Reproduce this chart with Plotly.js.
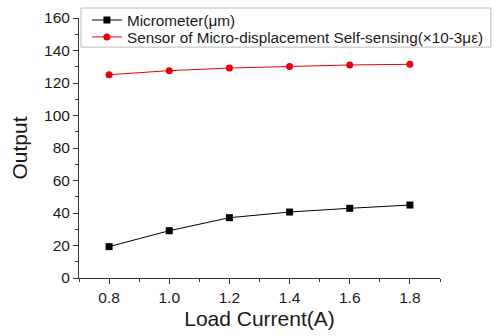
<!DOCTYPE html>
<html><head><meta charset="utf-8">
<script src="https://cdn.plot.ly/plotly-3.0.1.min.js"></script>
<style>html,body{margin:0;padding:0;background:#fff}#c{width:496px;height:336px}</style>
</head><body><div id="c"></div>
<script>
const current = [0.8, 1.0, 1.2, 1.4, 1.6, 1.8];
const micrometer = [19.3, 29.1, 37.1, 40.6, 42.9, 44.9];
const sensor = [125.1, 127.6, 129.2, 130.2, 131.1, 131.5];
const yTicks = [0, 20, 40, 60, 80, 100, 120, 140, 160];
const xTicks = [0.8, 1.0, 1.2, 1.4, 1.6, 1.8];

const traces = [
  {x: current, y: micrometer, name: 'Micrometer(μm)', mode: 'lines+markers', legend: 'legend',
   line: {color: '#000', width: 1}, marker: {symbol: 'square', size: 7, color: '#000'}},
  {x: current, y: sensor, name: 'Sensor of Micro-displacement Self-sensing(×10-3με)', mode: 'lines+markers', legend: 'legend2',
   line: {color: '#e8000b', width: 1}, marker: {symbol: 'circle', size: 7, color: '#e8000b'}}
];
const legFont = {size: 15.3, color: '#1a1a1a'};
const layout = {
  width: 496, height: 336,
  margin: {l: 79, r: 56, t: 18, b: 58, autoexpand: false},
  paper_bgcolor: '#fff', plot_bgcolor: '#fff',
  font: {family: 'Liberation Sans, Arial, sans-serif', color: '#222'},
  showlegend: true,
  legend: {x: 0.022, y: 0.992, xanchor: 'left', yanchor: 'middle', bgcolor: 'rgba(0,0,0,0)',
    borderwidth: 0, font: legFont, itemwidth: 30},
  legend2: {x: 0.022, y: 0.927, xanchor: 'left', yanchor: 'middle', bgcolor: 'rgba(0,0,0,0)',
    borderwidth: 0, font: legFont, itemwidth: 30},
  shapes: [{type: 'rect', xref: 'paper', yref: 'paper', x0: 0.0055, x1: 1.141, y0: 0.888, y1: 1.0385,
    line: {color: '#bbb', width: 1}, fillcolor: '#fff', layer: 'below'}],
  xaxis: {range: [0.7, 1.9], tickvals: xTicks, ticktext: xTicks.map(v => v.toFixed(1)),
    showgrid: false, zeroline: false, showline: true, linecolor: '#333', linewidth: 1,
    ticks: 'outside', ticklen: 5, tickcolor: '#333', tickfont: {size: 15.5, color: '#1a1a1a'},
    minor: {ticks: 'outside', dtick: 0.1, ticklen: 3, tickcolor: '#333'},
    title: {text: 'Load Current(A)', font: {size: 21, color: '#1a1a1a'}, standoff: 6}},
  yaxis: {range: [0, 160], tickvals: yTicks, showgrid: false, zeroline: false,
    showline: true, linecolor: '#333', linewidth: 1,
    ticks: 'outside', ticklen: 5, tickcolor: '#333', tickfont: {size: 15.5, color: '#1a1a1a'},
    minor: {ticks: 'outside', dtick: 10, ticklen: 3, tickcolor: '#333'},
    title: {text: 'Output', font: {size: 21, color: '#1a1a1a'}, standoff: 10}}
};
Plotly.newPlot('c', traces, layout, {displayModeBar: false, staticPlot: true});
</script></body></html>
